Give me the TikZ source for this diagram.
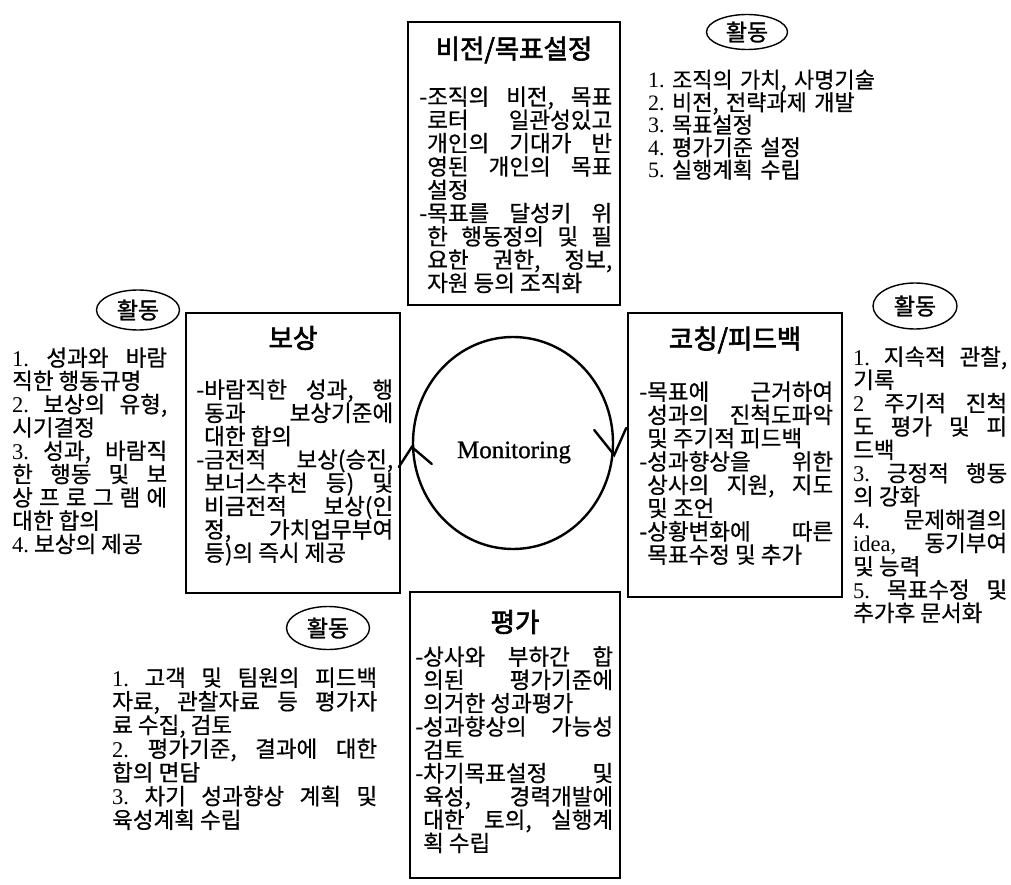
\documentclass[tikz,border=0pt]{standalone}
\usepackage{fontspec}
\setmainfont[AutoFakeBold=2.5]{Noto Sans CJK KR}
\newfontfamily\krb[FakeBold=0.6]{Noto Sans CJK KR}
\newfontfamily\krbb[FakeBold=1.4]{Noto Sans CJK KR}
\newfontfamily\lat{Liberation Serif}
\newfontfamily\latb[FakeBold=0.9]{Liberation Serif}
\usetikzlibrary{shapes.geometric}
\newcommand\flushline{\hfil\break}
\tikzset{
  box/.style={draw, line width=1.5pt, inner sep=0pt},
  boxtitle/.style={font=\bfseries\fontsize{26.5}{30}\selectfont, inner sep=0pt},
  body/.style={anchor=base west, inner sep=0pt, align=justify, font=\krb\fontsize{22.5}{23.3}\selectfont},
  act/.style={ellipse, draw, line width=1.4pt, inner sep=0pt, font=\krbb\fontsize{23}{26}\selectfont},
  ring/.style={ellipse, draw, line width=2.4pt, inner sep=0pt, minimum width=200pt, minimum height=212pt},
  tip/.style={line width=2.4pt, line cap=round, line join=miter}
}
\begin{document}
\begin{tikzpicture}[x=1pt,y=-1pt]
\fill[white] (0,0) rectangle (1011,885);
\useasboundingbox (0,0) rectangle (1011,885);

% boxes
\node[box, minimum width=212pt, minimum height=283pt] (vis) at (514,163.5) {};
\node[box, minimum width=214pt, minimum height=280pt] (rew) at (293,453) {};
\node[box, minimum width=214pt, minimum height=284pt] (coa) at (735,455) {};
\node[box, minimum width=210pt, minimum height=286pt] (eva) at (515,735) {};

% titles
\node[boxtitle] (visT) at (514,50) {비전/목표설정};
\node[boxtitle] (rewT) at (293,338) {보상};
\node[boxtitle] (coaT) at (735,340) {코칭/피드백};
\node[boxtitle] (evaT) at (515,622) {평가};

% box bodies
\node[body, text width=185pt] (visB) at (427,105) {\parfillskip=0pt
\llap{-}조직의~비전,~목표\break
로터~일관성있고\break
개인의~기대가~반\break
영된~개인의~목표\break
설정\flushline
\llap{-}목표를~달성키~위\break
한~행동정의~및~필\break
요한~권한,~정보,\break
자원~등의~조직화};

\node[body, text width=189pt] (rewB) at (204,398) {%
\llap{-}바람직한~성과,~행\break
동과~보상기준에\break
대한~합의\flushline
\llap{-}금전적~보상(승진,\break
보너스추천~등)~및\break
비금전적~보상(인\break
정,~가치업무부여\break
등)의~즉시~제공};

\node[body, text width=186pt] (coaB) at (647,400) {%
\llap{-}목표에~근거하여\break
성과의~진척도파악\break
및~주기적~피드백\flushline
\llap{-}성과향상을~위한\break
상사의~지원,~지도\break
및~조언\flushline
\llap{-}상황변화에~따른\break
목표수정~및~추가};

\node[body, text width=190pt] (evaB) at (423,665) {%
\llap{-}상사와~부하간~합\break
의된~평가기준에\break
의거한~성과평가\flushline
\llap{-}성과향상의~가능성\break
검토\flushline
\llap{-}차기목표설정~및\break
육성,~경력개발에\break
대한~토의,~실행계\break
획~수립};

% activity ellipses
\node[act, minimum width=81pt, minimum height=35pt] (actT) at (747,32) {활동};
\node[act, minimum width=83pt, minimum height=40pt] (actL) at (138,310) {활동};
\node[act, minimum width=84pt, minimum height=46pt] (actR) at (915,306) {활동};
\node[act, minimum width=83pt, minimum height=43pt] (actB) at (328,628) {활동};

% activity lists
\node[body, align=left, text width=355pt, font=\krb\fontsize{22}{22.5}\selectfont] (lstT) at (648,88) {%
{\lat 1.}~조직의~가치,~사명기술\\
{\lat 2.}~비전,~전략과제~개발\\
{\lat 3.}~목표설정\\
{\lat 4.}~평가기준~설정\\
{\lat 5.}~실행계획~수립};

\node[body, text width=155pt] (lstL) at (12,366) {%
{\lat 1.}~성과와~바람\break
직한~행동규명\flushline
{\lat 2.}~보상의~유형,\break
시기결정\flushline
{\lat 3.}~성과,~바람직\break
한~행동~및~보\break
\makebox[\linewidth][s]{상\hfil 프\hfil 로\hfil 그\hfil 램\hfil 에}\break
대한~합의\flushline
{\lat 4.}~보상의~제공};

\node[body, text width=154pt] (lstR) at (853,365) {%
{\lat 1.}~지속적~관찰,\break
기록\flushline
{\lat 2}~주기적~진척\break
도~평가~및~피\break
드백\flushline
{\lat 3.}~긍정적~행동\break
의~강화\flushline
{\lat 4.}~문제해결의\break
{\lat idea,}~동기부여\break
및~능력\flushline
{\lat 5.}~목표수정~및\break
추가후~문서화};

\node[body, text width=265pt, font=\krb\fontsize{22.5}{23.7}\selectfont] (lstB) at (112,686) {%
{\lat 1.}~고객~및~팀원의~피드백\break
자료,~관찰자료~등~평가자\break
료~수집,~검토\flushline
{\lat 2.}~평가기준,~결과에~대한\break
합의~면담\flushline
{\lat 3.}~차기~성과향상~계획~및\break
육성계획~수립};

% monitoring cycle
\node[ring] (ring) at (513,443) {};
\node[inner sep=0pt, font=\latb\fontsize{25}{28}\selectfont] (mon) at (514,452.5) {Monitoring};
\draw[tip] ([shift={(-13,24)}]ring.west) -- ([shift={(0,4)}]ring.west) -- ([shift={(20,21)}]ring.west);
\draw[tip] ([shift={(-20,-13)}]ring.east) -- ([shift={(0,12)}]ring.east) -- ([shift={(12,-15)}]ring.east);
\end{tikzpicture}
\end{document}
